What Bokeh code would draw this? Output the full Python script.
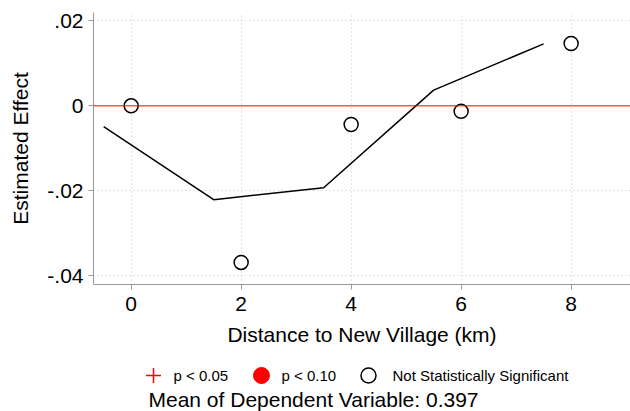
from bokeh.plotting import figure
from bokeh.layouts import column
from bokeh.models import (Span, FixedTicker, ColumnDataSource, Range1d,
                          CustomJSTickFormatter)
from bokeh.core.properties import value
from bokeh.embed import file_html
from bokeh.resources import INLINE

# ---- data ----
distance = [0, 2, 4, 6, 8]
effect = [0.0, -0.0369, -0.0044, -0.0013, 0.0147]
significance = ["ns", "ns", "ns", "ns", "ns"]   # "p05", "p10", "ns"

line_x = [-0.5, 1.5, 3.5, 5.5, 7.5]
line_y = [-0.0049, -0.0221, -0.0193, 0.0037, 0.0146]

x_ticks = [0, 2, 4, 6, 8]
y_ticks = [-0.04, -0.02, 0.0, 0.02]
mean_dep = 0.397
legend_labels = ["p < 0.05", "p < 0.10", "Not Statistically Significant"]

FONT = "Liberation Sans"

def subset(tag):
    xs = [d for d, s in zip(distance, significance) if s == tag]
    ys = [e for e, s in zip(effect, significance) if s == tag]
    return ColumnDataSource(dict(x=xs, y=ys))

W = 630
LEFT = 93
p = figure(width=W, height=352, output_backend="svg", toolbar_location=None,
           x_range=Range1d(-0.685, 9.08), y_range=Range1d(-0.0421, 0.022),
           min_border_left=LEFT, min_border_right=0, min_border_top=12,
           min_border_bottom=68)
p.outline_line_color = None

for ax in (p.xaxis[0], p.yaxis[0]):
    ax.axis_line_color = "#999999"
    ax.major_tick_line_color = "#999999"
    ax.major_tick_out = 5
    ax.major_tick_in = 0
    ax.minor_tick_line_color = None
    ax.major_label_text_font = FONT
    ax.major_label_text_font_size = "21px"
    ax.major_label_text_color = "black"
    ax.axis_label_text_font = FONT
    ax.axis_label_text_font_size = "21px"
    ax.axis_label_text_font_style = "normal"
    ax.axis_label_text_color = "black"

p.xaxis.ticker = FixedTicker(ticks=x_ticks)
p.yaxis.ticker = FixedTicker(ticks=y_ticks)
p.yaxis.formatter = CustomJSTickFormatter(
    code='return Math.abs(tick) < 1e-12 ? "0" : tick.toFixed(2).replace("0.", ".");')
p.xaxis.axis_label = "Distance to New Village (km)"
p.yaxis.axis_label = "Estimated Effect"
p.yaxis.axis_label_standoff = 12
p.xaxis.major_label_standoff = 7
p.xaxis.axis_label_standoff = 9

for g in (p.xgrid[0], p.ygrid[0]):
    g.grid_line_color = "#c8c8c8"
    g.grid_line_dash = "1 3"
    g.grid_line_width = 1
p.xgrid.ticker = FixedTicker(ticks=x_ticks)
p.ygrid.ticker = FixedTicker(ticks=y_ticks)

p.add_layout(Span(location=0, dimension="width", line_color="red", line_width=1))

p.line(line_x, line_y, line_color="black", line_width=1.5)

p.scatter("x", "y", source=subset("p05"), marker="cross", size=14,
          line_color="red", line_width=1.5)
p.scatter("x", "y", source=subset("p10"), marker="circle", size=15,
          fill_color="red", line_color="red")
p.scatter("x", "y", source=subset("ns"), marker="circle", size=14,
          fill_color="white", line_color="black", line_width=1.5)

# ---- footer: legend + note (pixel-like coordinates, frame aligned to main plot) ----
FH = 59
f = figure(width=W, height=FH, output_backend="svg", toolbar_location=None,
           x_range=Range1d(LEFT, W), y_range=Range1d(0, FH),
           min_border_left=LEFT, min_border_right=0, min_border_top=0,
           min_border_bottom=0)
f.axis.visible = False
f.grid.visible = False
f.outline_line_color = None

key_x = [153, 261, 368]
text_x = [173, 281, 392]
ky = 36
f.scatter([key_x[0]], [ky], marker="cross", size=15, line_color="red", line_width=1.5)
f.scatter([key_x[1]], [ky], marker="circle", size=16, fill_color="red", line_color="red")
f.scatter([key_x[2]], [ky], marker="circle", size=15, fill_color="white",
          line_color="black", line_width=1.5)
f.text(x=text_x, y=[ky] * 3, text=legend_labels, text_font=value(FONT),
       text_font_size="15px", text_baseline="middle", text_align="left",
       text_color="black")
f.text(x=[148], y=[12], text=[f"Mean of Dependent Variable: {mean_dep:.3f}"],
       text_font=value(FONT), text_font_size="21px", text_baseline="middle",
       text_align="left", text_color="black")

layout = column(p, f, spacing=0)
open("out.html", "w").write(file_html(layout, INLINE))
